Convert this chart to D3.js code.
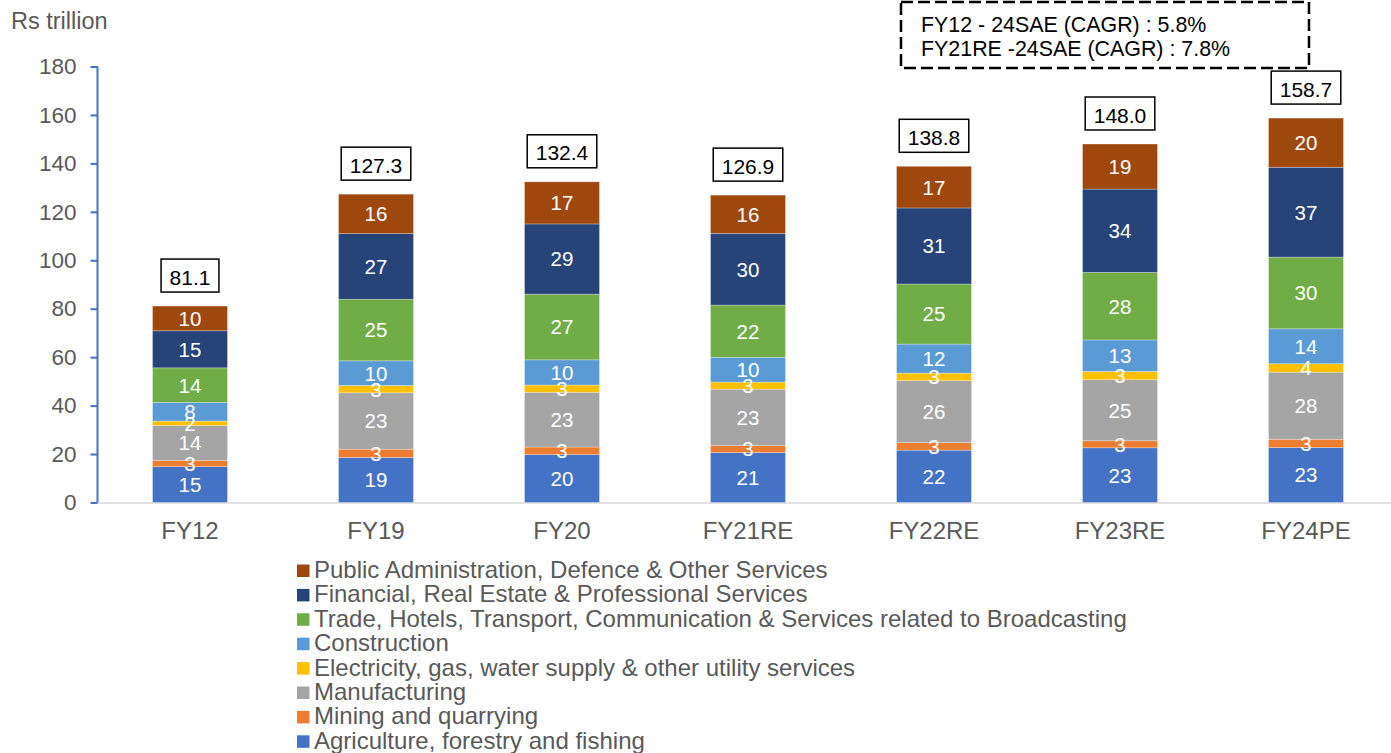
<!DOCTYPE html>
<html><head><meta charset="utf-8">
<script src="https://cdn.jsdelivr.net/npm/d3@7"></script>
<style>
html,body{margin:0;padding:0;background:#fff;}
svg{display:block;font-family:"Liberation Sans",Arial,sans-serif;}
</style></head>
<body>
<svg id="chart" width="1391" height="753"></svg>
<script>
const categories = ["FY12","FY19","FY20","FY21RE","FY22RE","FY23RE","FY24PE"];
const agriculture  = [14.8, 18.6, 19.8, 20.6, 21.6, 22.6, 22.7];
const mining       = [2.6, 3.4, 3.1, 2.9, 3.1, 2.9, 3.4];
const manufacturing= [14.4, 23.3, 22.6, 23.3, 25.6, 25.2, 27.7];
const electricity  = [1.8, 3.0, 3.0, 2.9, 3.1, 3.4, 3.5];
const construction = [7.7, 10.2, 10.4, 10.2, 12.0, 13.0, 14.4];
const trade        = [14.3, 25.4, 27.1, 21.6, 24.8, 27.9, 29.6];
const financial    = [15.3, 27.1, 29.0, 29.6, 31.4, 34.4, 37.1];
const publicAdmin  = [10.2, 16.3, 17.4, 15.8, 17.2, 18.6, 20.3];
const totals       = [81.1, 127.3, 132.4, 126.9, 138.8, 148.0, 158.7];
const yTicks = [0,20,40,60,80,100,120,140,160,180];
const cagrNotes = ["FY12 - 24SAE (CAGR) : 5.8%", "FY21RE -24SAE (CAGR) : 7.8%"];

const series = [
  {name:"Agriculture, forestry and fishing", values:agriculture, color:"#4472C4"},
  {name:"Mining and quarrying", values:mining, color:"#ED7D31"},
  {name:"Manufacturing", values:manufacturing, color:"#A5A5A5"},
  {name:"Electricity, gas, water supply & other utility services", values:electricity, color:"#FFC000"},
  {name:"Construction", values:construction, color:"#5B9BD5"},
  {name:"Trade, Hotels, Transport, Communication & Services related to Broadcasting", values:trade, color:"#70AD47"},
  {name:"Financial, Real Estate & Professional Services", values:financial, color:"#264478"},
  {name:"Public Administration, Defence & Other Services", values:publicAdmin, color:"#9E480E"}
];

const svg = d3.select("#chart");
const y0 = 502.5, y1 = 66.5;
const x = d3.scaleBand().domain(categories).range([97, 1399]).paddingInner(0.597).paddingOuter(0.2985);
const y = d3.scaleLinear().domain([0,180]).range([y0, y1]);

const rows = categories.map((c,i)=>{ const o={cat:c}; series.forEach((s,k)=>o["s"+k]=s.values[i]); return o; });
const stack = d3.stack().keys(series.map((s,k)=>"s"+k))(rows);

// x axis line
svg.append("line").attr("x1",97).attr("x2",1391).attr("y1",y0+0.5).attr("y2",y0+0.5)
  .attr("stroke","#D9D9D9").attr("stroke-width",1.5);

// bars
const g = svg.append("g");
stack.forEach((layer,k)=>{
  g.selectAll(null).data(layer).enter().append("rect")
    .attr("x", d=>x(d.data.cat))
    .attr("width", x.bandwidth())
    .attr("y", d=>y(d[1]))
    .attr("height", d=>y(d[0])-y(d[1]))
    .attr("fill", series[k].color)
    .attr("stroke","#ffffff").attr("stroke-opacity",0.35).attr("stroke-width",0.8);
});
stack.forEach((layer,k)=>{
  g.selectAll(null).data(layer).enter().append("text")
    .attr("x", d=>x(d.data.cat)+x.bandwidth()/2)
    .attr("y", d=>(y(d[0])+y(d[1]))/2)
    .attr("dy","0.36em")
    .attr("text-anchor","middle")
    .attr("fill","#fff").attr("font-size","20.5px")
    .text(d=>Math.round(d[1]-d[0]));
});

// y axis
const ya = svg.append("g").attr("transform","translate(97.5,0)")
  .call(d3.axisLeft(y).tickValues(yTicks).tickSize(7).tickPadding(14).tickFormat(d3.format("d")));
ya.select(".domain").attr("stroke","#4472C4").attr("stroke-width",2).attr("d",`M0,${y1}V${y0}`);
ya.selectAll(".tick line").attr("stroke","#4472C4").attr("stroke-width",2);
ya.selectAll(".tick text").attr("fill","#595959").attr("font-size","22.5px")
  .attr("font-family","Liberation Sans, Arial, sans-serif");

// x labels
svg.append("g").selectAll(null).data(categories).enter().append("text")
  .attr("x", d=>x(d)+x.bandwidth()/2).attr("y", 539)
  .attr("text-anchor","middle").attr("fill","#595959").attr("font-size","24px").text(d=>d);

// y title
svg.append("text").attr("x",11).attr("y",29).attr("fill","#595959").attr("font-size","23.5px").text("Rs trillion");

// totals boxes
const tg = svg.append("g");
categories.forEach((c,i)=>{
  const cx = x(c)+x.bandwidth()/2;
  const top = y(d3.sum(series, s=>s.values[i]));
  const t = tg.append("text").attr("x",cx).attr("y",top-14-7.5).attr("text-anchor","middle")
    .attr("fill","#000").attr("font-size","21px").text(totals[i].toFixed(1));
  const w = t.node().getComputedTextLength()+17;
  tg.insert("rect","text").attr("x",cx-w/2).attr("y",top-14-33).attr("width",w).attr("height",33)
    .attr("fill","#fff").attr("stroke","#000").attr("stroke-width",1.5);
});

// CAGR annotation
svg.append("rect").attr("x",901).attr("y",2).attr("width",408).attr("height",66)
  .attr("fill","none").attr("stroke","#000").attr("stroke-width",2.5).attr("stroke-dasharray","12,5");
cagrNotes.forEach((t,i)=>{
  svg.append("text").attr("x",921).attr("y",32+i*23.5).attr("fill","#000").attr("font-size","21.4px").text(t);
});

// legend
const lg = svg.append("g");
series.slice().reverse().forEach((s,i)=>{
  const by = 578 + i*24.4;
  lg.append("rect").attr("x",297).attr("y",by-13.5).attr("width",12.5).attr("height",12.5).attr("fill",s.color);
  lg.append("text").attr("x",314).attr("y",by).attr("fill","#595959").attr("font-size","24px").text(s.name);
});
</script>
</body></html>
